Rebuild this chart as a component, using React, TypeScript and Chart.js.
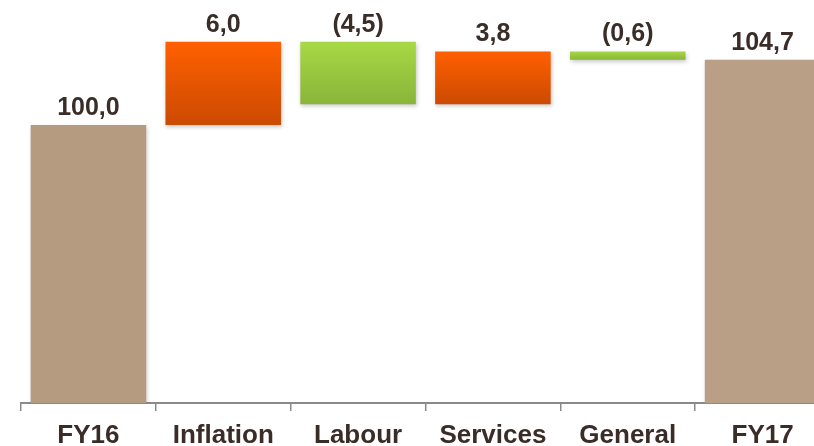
import React, { useEffect, useRef } from "react";
import { Chart, registerables } from "chart.js";

Chart.register(...registerables);

const categories = ["FY16", "Inflation", "Labour", "Services", "General", "FY17"];
const changes = [100.0, 6.0, -4.5, 3.8, -0.6, 104.7];
const isTotal = [true, false, false, false, false, true];
const Y_MIN = 80;
const Y_MAX = 109;

const TEXT = "#3a2c27";
const FONT = "'Liberation Sans', Arial, sans-serif";

function buildRanges(): [number, number][] {
  const out: [number, number][] = [];
  let run = 0;
  changes.forEach((v, i) => {
    if (isTotal[i]) {
      out.push([Y_MIN, v]);
      run = v;
    } else {
      const next = run + v;
      out.push([run, next]);
      run = next;
    }
  });
  return out;
}

function fmt(v: number): string {
  const s = Math.abs(v).toFixed(1).replace(".", ",");
  return v < 0 ? `(${s})` : s;
}

export default function App() {
  const ref = useRef<HTMLCanvasElement | null>(null);
  useEffect(() => {
    if (!ref.current) return;
    const ranges = buildRanges();
    const colorFor = (ctx: any) => {
      const i = ctx.dataIndex;
      if (i === undefined) return "#b59c81";
      if (isTotal[i]) return i === 0 ? "#b59b80" : "#b89f86";
      const chart = ctx.chart;
      const ys = chart.scales?.y;
      const [a, b] = ranges[i];
      const top = ys ? ys.getPixelForValue(Math.max(a, b)) : 0;
      const bot = ys ? ys.getPixelForValue(Math.min(a, b)) : 100;
      const g = chart.ctx.createLinearGradient(0, top, 0, bot);
      if (changes[i] > 0) {
        g.addColorStop(0, "#ff6000");
        g.addColorStop(1, "#cc4a02");
      } else {
        g.addColorStop(0, "#a8d945");
        g.addColorStop(1, "#89b53a");
      }
      return g;
    };
    const shadowPlugin = {
      id: "shadow",
      beforeDatasetsDraw(chart: any) {
        const c = chart.ctx;
        c.save();
        c.shadowColor = "rgba(0,0,0,0.22)";
        c.shadowBlur = 4;
        c.shadowOffsetX = 1;
        c.shadowOffsetY = 2;
      },
      afterDatasetsDraw(chart: any) {
        chart.ctx.restore();
        const c = chart.ctx;
        const meta = chart.getDatasetMeta(0);
        c.save();
        c.fillStyle = TEXT;
        c.font = `bold 25px ${FONT}`;
        c.textAlign = "center";
        c.textBaseline = "alphabetic";
        meta.data.forEach((el: any, i: number) => {
          const top = Math.min(el.y, el.base);
          c.fillText(fmt(changes[i]), el.x, top - 10);
        });
        c.restore();
      },
    };
    const chart = new Chart(ref.current, {
      type: "bar",
      data: {
        labels: categories,
        datasets: [
          {
            data: ranges as any,
            backgroundColor: colorFor,
            borderWidth: 0,
            barPercentage: 0.857,
            categoryPercentage: 1,
          },
        ],
      },
      options: {
        animation: false,
        responsive: false,
        devicePixelRatio: 1,
        layout: { padding: { left: 21, right: 0, top: 0, bottom: 0 } },
        plugins: {
          legend: { display: false },
          tooltip: { enabled: false },
        },
        scales: {
          x: {
            grid: {
              display: true,
              drawOnChartArea: false,
              drawTicks: true,
              tickLength: 8,
              offset: true,
              color: "#8a8a8a",
              lineWidth: 1.5,
            },
            border: { display: true, color: "#8a8a8a", width: 2 },
            ticks: {
              color: TEXT,
              font: { family: FONT, size: 26, weight: "bold" },
              padding: 9,
              maxRotation: 0,
              autoSkip: false,
            },
            afterFit(scale: any) {
              scale.height = 43;
            },
          },
          y: {
            display: false,
            min: Y_MIN,
            max: Y_MAX,
          },
        },
      },
      plugins: [shadowPlugin],
    });
    return () => chart.destroy();
  }, []);
  return (
    <div
      style={{
        position: "fixed",
        left: 0,
        top: 0,
        width: 814,
        height: 446,
        overflow: "hidden",
        background: "#fff",
      }}
    >
      <canvas ref={ref} width={830} height={446} style={{ display: "block" }} />
    </div>
  );
}
